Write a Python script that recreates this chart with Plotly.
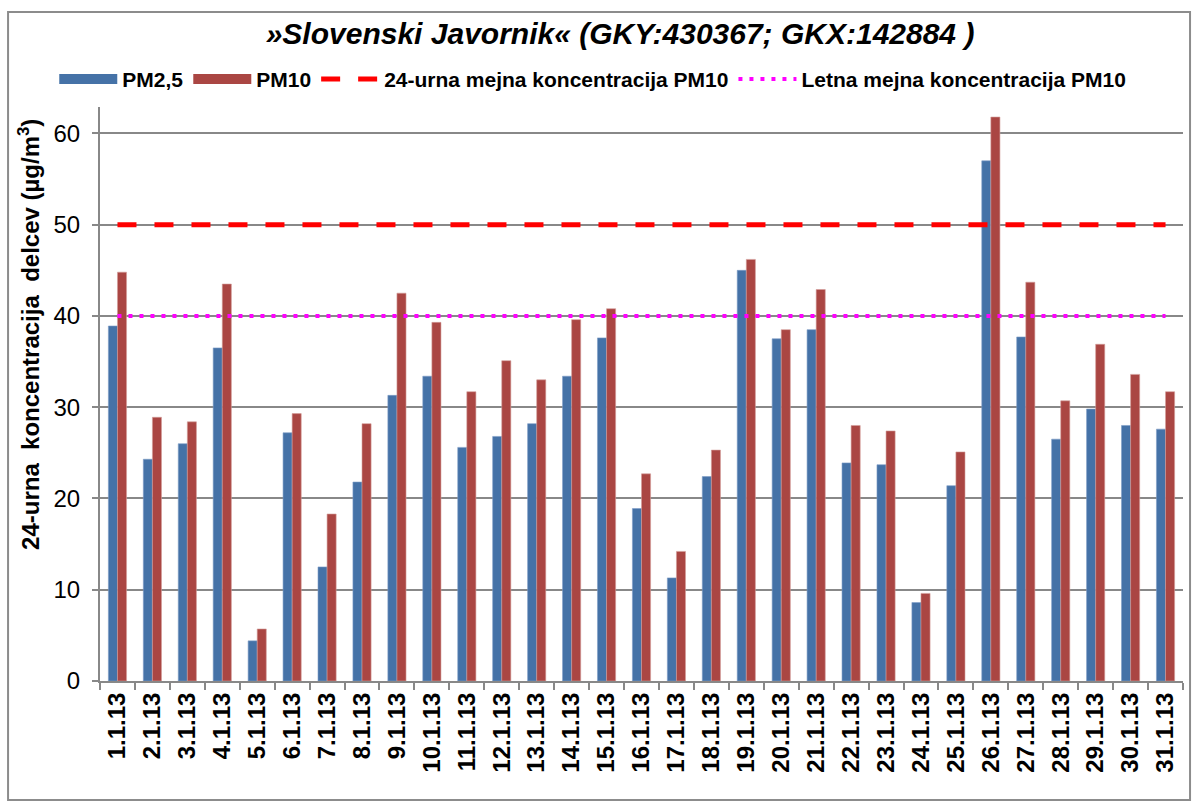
import plotly.graph_objects as go

dates = [f"{d}.1.13" for d in range(1, 32)]
pm25 = [38.9, 24.3, 26.0, 36.5, 4.4, 27.2, 12.5, 21.8, 31.3, 33.4, 25.6, 26.8, 28.2, 33.4, 37.6,
        18.9, 11.3, 22.4, 45.0, 37.5, 38.5, 23.9, 23.7, 8.6, 21.4, 57.0, 37.7, 26.5, 29.8, 28.0, 27.6]
pm10 = [44.8, 28.9, 28.4, 43.5, 5.7, 29.3, 18.3, 28.2, 42.5, 39.3, 31.7, 35.1, 33.0, 39.6, 40.8,
        22.7, 14.2, 25.3, 46.2, 38.5, 42.9, 28.0, 27.4, 9.6, 25.1, 61.8, 43.7, 30.7, 36.9, 33.6, 31.7]
limit24 = [50] * len(dates)
limit_year = [40] * len(dates)
yticks = [0, 10, 20, 30, 40, 50, 60]

FONT = "Liberation Sans, Arial, sans-serif"
BLUE = "#4572A7"
RED = "#AA4643"

fig = go.Figure()
fig.add_trace(go.Bar(x=dates, y=pm25, name="PM2,5", showlegend=False,
                     marker=dict(color=BLUE, line=dict(color="#7d9cc6", width=0.6))))
fig.add_trace(go.Bar(x=dates, y=pm10, name="PM10", showlegend=False,
                     marker=dict(color=RED, line=dict(color="#d49d9b", width=0.6))))
# legend-only entries drawn as wide blocks like the reference legend
fig.add_trace(go.Scatter(x=[dates[0]], y=[None], mode="lines", name="<b>PM2,5</b>",
                         line=dict(color=BLUE, width=14)))
fig.add_trace(go.Scatter(x=[dates[0]], y=[None], mode="lines", name="<b>PM10</b>",
                         line=dict(color=RED, width=14)))
fig.add_trace(go.Scatter(x=dates, y=limit24, mode="lines", name="<b>24-urna mejna koncentracija PM10</b>",
                         line=dict(color="#FF0000", width=5, dash="19px,18px")))
fig.add_trace(go.Scatter(x=dates, y=limit_year, mode="lines", name="<b>Letna mejna koncentracija PM10</b>",
                         line=dict(color="#FF00FF", width=4, dash="4px,7px")))

fig.update_layout(
    width=1197, height=807,
    margin=dict(l=100, r=14, t=107, b=126, autoexpand=False),
    paper_bgcolor="white", plot_bgcolor="white",
    barmode="group", bargap=0.48, bargroupgap=0.0,
    font=dict(family=FONT, color="black"),
    title=dict(text="<b><i>»Slovenski Javornik« (GKY:430367; GKX:142884 )</i></b>",
               x=0.518, xanchor="center", y=0.959, yanchor="middle",
               font=dict(size=30, family=FONT, color="black")),
    legend=dict(orientation="h", x=0.455, xanchor="center", y=1.048, yanchor="middle",
                font=dict(size=21, family=FONT, color="black"), itemwidth=58,
                tracegroupgap=0, bgcolor="rgba(0,0,0,0)"),
    showlegend=True,
)
fig.update_xaxes(
    type="category", tickangle=-90, tickfont=dict(size=24, family=FONT, color="black"),
    showline=True, linecolor="#888888", linewidth=2, ticks="outside", ticklen=7,
    tickcolor="#888888", tickwidth=2, tickson="boundaries", showgrid=False,
    tickprefix="<b>", ticksuffix="</b>",
)
fig.update_yaxes(
    range=[0, 62.9], tickvals=yticks, tickfont=dict(size=24, family=FONT, color="black"),
    showline=True, linecolor="#888888", linewidth=2, ticks="outside", ticklen=6,
    tickcolor="#888888", tickwidth=2, showgrid=True, gridcolor="#888888", gridwidth=2,
    zeroline=False, ticklabelstandoff=7,
)
fig.add_annotation(text="<b>24-urna  koncentracija  delcev (µg/m<sup>3</sup>)</b>",
                   xref="paper", yref="paper", x=-0.0656, y=0.6045, xanchor="center", yanchor="middle",
                   textangle=-90, showarrow=False, font=dict(size=24, family=FONT, color="black"))
fig.add_shape(type="rect", xref="paper", yref="paper", x0=-0.0849, x1=1.0065, y0=-0.2073, y1=1.1655,
              line=dict(color="#8c8c8c", width=2), fillcolor="rgba(0,0,0,0)", layer="below")

fig.write_html("out.html", config={"displayModeBar": False},
               post_script="document.body.style.margin='0';document.body.style.overflow='hidden';")
